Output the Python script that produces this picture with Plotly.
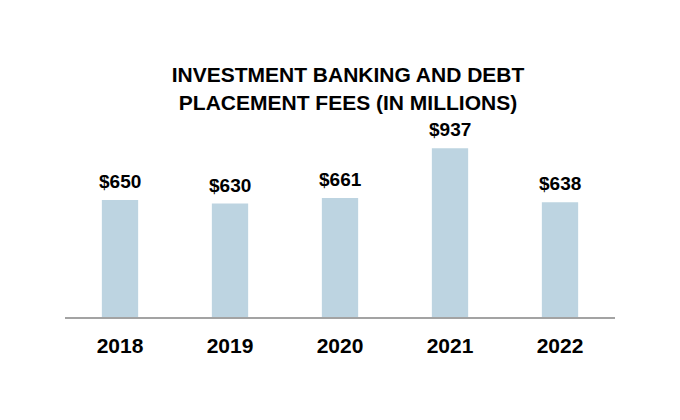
import plotly.graph_objects as go

years = ["2018", "2019", "2020", "2021", "2022"]
fees = [650, 630, 661, 937, 638]
labels = ["$650", "$630", "$661", "$937", "$638"]

FONT = "Liberation Sans, Arial, sans-serif"

fig = go.Figure(go.Bar(
    x=years, y=fees, marker=dict(color="#bdd4e1", line=dict(width=0)),
    width=0.33, hoverinfo="skip"))

# category axis: annotate each bar by its category index
for i, (v, lab) in enumerate(zip(fees, labels)):
    fig.add_annotation(x=i, y=v, text="<b>" + lab + "</b>", showarrow=False,
                       yanchor="bottom", yshift=6,
                       font=dict(family=FONT, size=19, color="#000"))

fig.update_layout(
    width=680, height=420,
    margin=dict(l=57, r=73, t=129, b=111, autoexpand=False),
    paper_bgcolor="white", plot_bgcolor="white",
    showlegend=False,
    title=dict(text="<b>INVESTMENT BANKING AND DEBT<br>PLACEMENT FEES (IN MILLIONS)</b>",
               x=0.5, xanchor="center", y=0.823, yanchor="middle",
               font=dict(family=FONT, size=21, color="#000")),
    xaxis=dict(type="category", categoryorder="array", categoryarray=years,
               range=[-0.5, len(years) - 0.5],
               showline=True, linecolor="#a3a3a3", linewidth=2,
               ticks="outside", ticklen=9, tickcolor="rgba(0,0,0,0)", showgrid=False,
               tickfont=dict(family=FONT, size=21, color="#000"),
               tickprefix="<b>", ticksuffix="</b>"),
    yaxis=dict(range=[0, 1000], visible=False, showgrid=False, zeroline=False),
)

fig.write_html("out.html")
